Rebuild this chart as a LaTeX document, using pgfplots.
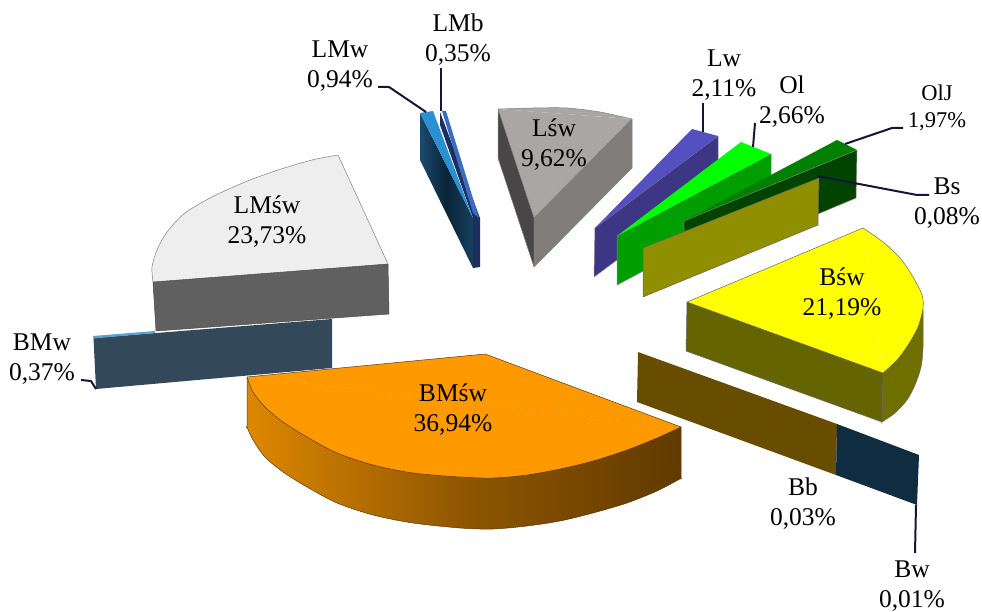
\documentclass[border=0pt]{standalone}
\usepackage{fontspec}
\setmainfont{Liberation Serif}
\usepackage{pgfplots}
\pgfplotsset{compat=1.18}
\definecolor{cleader}{HTML}{14143C}
\definecolor{cbmw}{HTML}{33495A}
\definecolor{cbmwtop}{HTML}{5AA0D2}
\definecolor{clmswtop}{HTML}{EEEEEE}
\definecolor{clmswside}{HTML}{606060}
\definecolor{cbmswtop}{HTML}{FF9900}
\definecolor{cbmswl}{HTML}{DE8800}
\definecolor{cbmswm}{HTML}{8F5600}
\definecolor{cbmswr}{HTML}{603A00}
\definecolor{cbmswedge}{HTML}{5A3A10}
\definecolor{cbswt}{rgb}{1,1,0}
\definecolor{cbswr}{HTML}{6F6F00}
\definecolor{cbswf}{HTML}{646400}
\definecolor{cbb}{HTML}{684C00}
\definecolor{cbw}{HTML}{0F2C40}
\definecolor{clswtop}{HTML}{AAA6A6}
\definecolor{clswl}{HTML}{484646}
\definecolor{clswr}{HTML}{807D7B}
\definecolor{clmbd}{HTML}{1E2E5E}
\definecolor{clmbl}{HTML}{3A6CC0}
\definecolor{clmwa}{HTML}{1A4A6C}
\definecolor{clmwb}{HTML}{0A2438}
\definecolor{clmwc}{HTML}{15405E}
\definecolor{clmwl}{HTML}{2A90D0}
\definecolor{clwf}{HTML}{3C3684}
\definecolor{clwt}{HTML}{5550C0}
\definecolor{colf}{HTML}{009E00}
\definecolor{colt}{HTML}{00FF00}
\definecolor{coljt}{HTML}{008000}
\definecolor{coljf}{HTML}{004400}
\definecolor{cbs}{HTML}{8F8F00}
\begin{document}
\begin{tikzpicture}
\begin{axis}[
    scale only axis,
    width=982pt, height=609pt,
    xmin=0, xmax=982,
    ymin=0, ymax=609,
    y dir=reverse,
    hide axis,
    clip=false,
]
\tikzset{
    mylab/.style={align=center, inner sep=0pt, font=\fontsize{25.5}{30}\selectfont},
    myedge/.style={line width=0.5pt, line join=round},
    mylead/.style={draw=cleader, line width=2pt, line join=round},
}
% fixes the page to the full frame
\path (axis cs:0,0) rectangle (axis cs:982,609);
% BMw
\addplot[fill=cbmw, draw=none] coordinates {(93.5,338)(332,319)(332,368)(96,389)} -- cycle;
\addplot[fill=cbmwtop, draw=none] coordinates {(93,336)(155,331)(155,333)(93.5,338.5)} -- cycle;
% LMsw
\addplot[fill=clmswtop, draw=none] coordinates {(338,155)(388,264)(153,282)(152,267)} -- cycle;
\addplot[fill=clmswtop, draw=gray, myedge, smooth] coordinates {(338,155)(312,160)(278,170)(245,182)(212,197)(185,213)(167,232)(157,250)(152,267)(153,282)};
\addplot[draw=gray, myedge] coordinates {(338,155)(388,264)};
\addplot[fill=clmswside, draw=black!70, myedge] coordinates {(153,282)(388,264)(389,314)(156,331)} -- cycle;
% BMsw
\addplot[left color=cbmswl, right color=cbmswr, middle color=cbmswm, draw=cbmswedge, myedge, smooth] coordinates {(681,427)(681,476)(681,478)(678,480)(657,491)(627,503)(593,513)(560,521)(527,526)(493,529)(460,528)(413,523)(373,515)(337,503)(307,487)(283,472)(265,457)(253,440)(247,427)(247,425)(247,377)};
\addplot[fill=cbmswtop, draw=none] coordinates {(485,354)(681,427)(247,377)} -- cycle;
\addplot[fill=cbmswtop, draw=cbmswedge, myedge, smooth] coordinates {(247,377)(253,392)(265,407)(283,422)(307,437)(337,453)(373,465)(413,473)(460,477)(493,478)(527,475)(560,469)(593,461)(627,450)(657,438)(681,427)};
\addplot[draw=cbmswedge, myedge] coordinates {(247,377)(485,354)(681,427)};
% Bsw
\addplot[fill=cbswr, draw=black!60, myedge, smooth] coordinates {(883,373)(882,420)(882,422)(885,420)(895,413)(907,400)(915,385)(921,367)(923,347)(923,310)};
\addplot[fill=cbswf, draw=black!60, myedge] coordinates {(687,302)(883,373)(882,422)(686,351)} -- cycle;
\addplot[fill=cbswt, draw=none] coordinates {(687,302)(863,228)(883,373)} -- cycle;
\addplot[fill=cbswt, draw=black!60, myedge, smooth] coordinates {(863,228)(883,242)(900,258)(913,277)(922,295)(923,308)(918,327)(908,345)(897,360)(883,373)};
\addplot[draw=black!60, myedge] coordinates {(863,228)(687,302)(883,373)};
% Bb, Bw
\addplot[fill=cbb, draw=none] coordinates {(638,352)(837,424)(836,475)(637,402)} -- cycle;
\addplot[fill=cbw, draw=none] coordinates {(837,424)(919,455)(917,505)(836,475)} -- cycle;
% Lsw
\addplot[fill=clswtop, draw=none] coordinates {(498,109)(632,119)(534,218)} -- cycle;
\addplot[fill=clswtop, draw=black!50, myedge, smooth] coordinates {(498,109)(533,108)(567,108)(600,112)(632,119)};
\addplot[fill=clswl, draw=black!50, myedge] coordinates {(498,109)(534,218)(534,267)(498,158)} -- cycle;
\addplot[fill=clswr, draw=black!50, myedge] coordinates {(534,218)(632,119)(632,168)(534,267)} -- cycle;
% LMb
\addplot[fill=clmbd, draw=none] coordinates {(440,112)(480,218)(480,267)(473,268)(473,218)(440,125)} -- cycle;
\addplot[fill=clmbl, draw=none] coordinates {(442,111)(446,111)(479,218)(473,213)} -- cycle;
% LMw
\addplot[left color=clmwa, right color=clmwc, middle color=clmwb, draw=none] coordinates {(420,113)(473,218)(473,268)(420,160)} -- cycle;
\addplot[fill=clmwl, draw=none] coordinates {(420,113)(433,111)(473,218)} -- cycle;
% Lw
\addplot[fill=clwf, draw=black!50, myedge] coordinates {(595,228)(718,136)(718,185)(594,277)} -- cycle;
\addplot[fill=clwt, draw=none] coordinates {(692,129)(718,136)(595,228)} -- cycle;
% Ol
\addplot[fill=colf, draw=black!50, myedge] coordinates {(617,236)(771,154)(771,203)(617,285)} -- cycle;
\addplot[fill=colt, draw=none] coordinates {(741,142)(771,154)(617,236)} -- cycle;
% OlJ
\addplot[fill=coljt, draw=none] coordinates {(837,140)(857,150)(684,221)} -- cycle;
\addplot[fill=coljf, draw=black!50, myedge] coordinates {(684,221)(857,150)(856,198)(684,270)} -- cycle;
% Bs
\addplot[fill=cbs, draw=black!60, myedge] coordinates {(643,248)(819,178)(818,225)(643,297)} -- cycle;
% leaders
\addplot[mylead] coordinates {(378,87)(389,87)(426,112)};
\addplot[mylead] coordinates {(441,68)(441,111)};
\addplot[mylead] coordinates {(703,103)(703,132)};
\addplot[mylead] coordinates {(755,123)(753,147)};
\addplot[mylead] coordinates {(903,128)(892,128)(845,144)};
\addplot[mylead] coordinates {(929,195)(917,195)(817,176)};
\addplot[mylead] coordinates {(81,380)(91,381)(96,389)};
\addplot[mylead] coordinates {(916,505)(915,553)};
% labels
\node[mylab] at (axis cs:458,40) {LMb\\0,35\%};
\node[mylab] at (axis cs:340,66) {LMw\\0,94\%};
\node[mylab] at (axis cs:554,145) {Lśw\\9,62\%};
\node[mylab] at (axis cs:724,75) {Lw\\2,11\%};
\node[mylab] at (axis cs:792,101.5) {Ol\\2,66\%};
\node[mylab, font=\fontsize{22.5}{27}\selectfont] at (axis cs:937,108) {OlJ\\1,97\%};
\node[mylab] at (axis cs:947,203) {Bs\\0,08\%};
\node[mylab] at (axis cs:842,293.5) {Bśw\\21,19\%};
\node[mylab] at (axis cs:267,221.5) {LMśw\\23,73\%};
\node[mylab] at (axis cs:42,359) {BMw\\0,37\%};
\node[mylab] at (axis cs:453,409.5) {BMśw\\36,94\%};
\node[mylab] at (axis cs:803,503.5) {Bb\\0,03\%};
\node[mylab] at (axis cs:912,586.5) {Bw\\0,01\%};
\end{axis}
\end{tikzpicture}
\end{document}
